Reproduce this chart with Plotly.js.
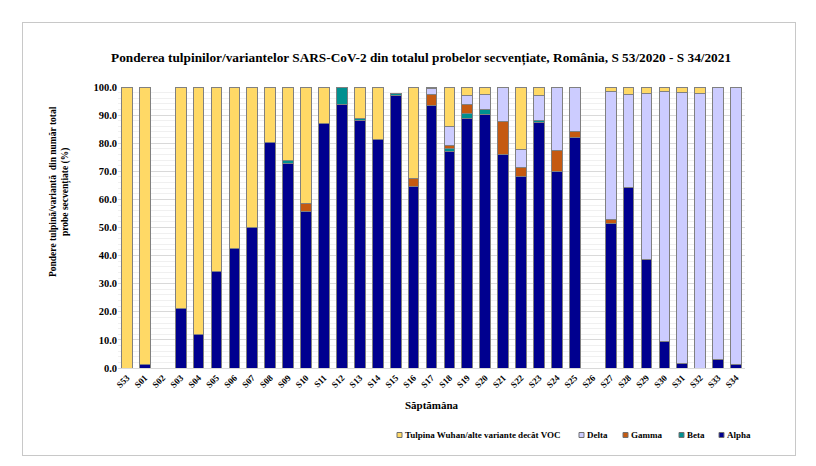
<!DOCTYPE html>
<html>
<head>
<meta charset="utf-8">
<script src="https://cdn.plot.ly/plotly-3.0.1.min.js"></script>
<style>
html,body{margin:0;padding:0;background:#fff;}
#wrap{position:relative;width:816px;height:466px;}
#chart{width:816px;height:466px;}
#frame{position:absolute;left:22px;top:22px;width:772px;height:432px;border:1px solid #c8c8c8;pointer-events:none;}
</style>
</head>
<body>
<div id="wrap"><div id="chart"></div><div id="frame"></div></div>
<script>
const weeks = ["S53","S01","S02","S03","S04","S05","S06","S07","S08","S09","S10","S11","S12","S13","S14","S15","S16","S17","S18","S19","S20","S21","S22","S23","S24","S25","S26","S27","S28","S29","S30","S31","S32","S33","S34"];
const alpha = [0,1.4,null,21.3,12.0,34.3,42.4,50.0,80.2,72.9,55.8,86.9,93.7,88.1,81.2,96.8,64.6,93.5,77.2,88.7,90.1,76.0,68.1,87.2,70.1,81.9,null,51.5,64.4,38.7,9.3,1.7,0,3.1,1.1];
const beta  = [0,0,null,0,0,0,0,0,0,0.8,0,0,6.3,0.8,0,0.9,0,0,0.8,1.7,1.9,0,0,0.8,0,0,null,0,0,0,0,0,0,0,0];
const gamma = [0,0,null,0,0,0,0,0,0,0,2.6,0,0,0,0,0,3.0,3.9,1.1,3.3,0,11.9,3.2,0,7.2,2.4,null,1.3,0,0,0,0,0,0,0];
const delta = [0,0,null,0,0,0,0,0,0,0,0,0,0,0,0,0,0,2.0,6.9,3.1,5.2,12.1,6.3,8.9,22.7,15.7,null,45.7,33.0,58.9,89.2,96.2,97.6,96.9,98.9];
const wuhan = [100,98.6,null,78.7,88.0,65.7,57.6,50.0,19.8,26.3,41.6,13.1,0,11.1,18.8,0,32.4,0.6,14.0,3.2,2.7,0,22.4,3.1,0,0,null,1.4,2.6,2.4,1.5,2.1,2.4,0,0];
const seriesNames = ["Alpha","Beta","Gamma","Delta","Tulpina Wuhan/alte variante decât VOC"];
const seriesColors = ["#00008f","#009090","#c55a11","#ccccff","#ffd966"];
const seriesData = [alpha,beta,gamma,delta,wuhan];

const traces = seriesData.map((d,i)=>({
  type:"bar", x:weeks, y:d, name:seriesNames[i],
  marker:{color:seriesColors[i], line:{color:"#808080", width:1}},
  hoverinfo:"x+y+name", showlegend:false
}));

// plot area in pixels (layout)
const L=118, R=745, T=87, B=368;
const px = x => (x-L)/(R-L);
const py = y => (B-y)/(B-T);

const font = {family:"Liberation Serif, Times New Roman, serif", color:"#000"};
const bfont = s => Object.assign({size:s, weight:"bold"}, font);

// manual legend (order as in the reference: Wuhan, Delta, Gamma, Beta, Alpha)
const legendOrder = [4,3,2,1,0];
const legendBoxX = [397,579,623,679,719];
const legendY = 435;
const shapes = [], annotations = [];
legendOrder.forEach((si,k)=>{
  const bx = legendBoxX[k];
  shapes.push({type:"rect", xref:"paper", yref:"paper",
    x0:px(bx), x1:px(bx+5), y0:py(legendY+2.5), y1:py(legendY-2.5),
    fillcolor:seriesColors[si], line:{color:"#707070", width:1}});
  annotations.push({xref:"paper", yref:"paper", x:px(bx+6), y:py(legendY), xanchor:"left", yanchor:"middle",
    showarrow:false, text:"<b>"+seriesNames[si]+"</b>", font:bfont(9)});
});
annotations.push({
  xref:"paper", yref:"paper", x:px(59), y:py(192), xanchor:"center", yanchor:"middle",
  textangle:-90, showarrow:false,
  text:"<b>Pondere tulpină/variantă  din număr total<br>probe secvențiate (%)</b>",
  font:bfont(9.5)
});

const layout = {
  width:816, height:466,
  margin:{l:L, r:816-R, t:T, b:466-B},
  barmode:"stack", bargap:0.40,
  paper_bgcolor:"#fff", plot_bgcolor:"#fff",
  font:Object.assign({size:10}, font),
  showlegend:false,
  title:{text:"<b>Ponderea tulpinilor/variantelor SARS-CoV-2 din totalul probelor secvențiate, România, S 53/2020 - S 34/2021</b>",
    font:bfont(13.3), x:0.516, xanchor:"center", y:0.876, yanchor:"middle"},
  xaxis:{type:"category", tickangle:-45, tickfont:bfont(9), showgrid:false,
    showline:true, linecolor:"#d9d9d9", ticks:"",
    title:{text:"<b>Săptămâna</b>", font:bfont(11), standoff:12}},
  yaxis:{range:[0,100], dtick:10, tickformat:".1f", tickfont:bfont(10.5),
    showgrid:true, gridcolor:"#d9d9d9", gridwidth:1, zeroline:false, showline:false, ticks:"",
    minor:{dtick:2, showgrid:true, gridcolor:"#f0f0f0", gridwidth:1}},
  shapes:shapes,
  annotations:annotations
};
Plotly.newPlot("chart", traces, layout, {displayModeBar:false, staticPlot:true});
</script>
</body>
</html>
